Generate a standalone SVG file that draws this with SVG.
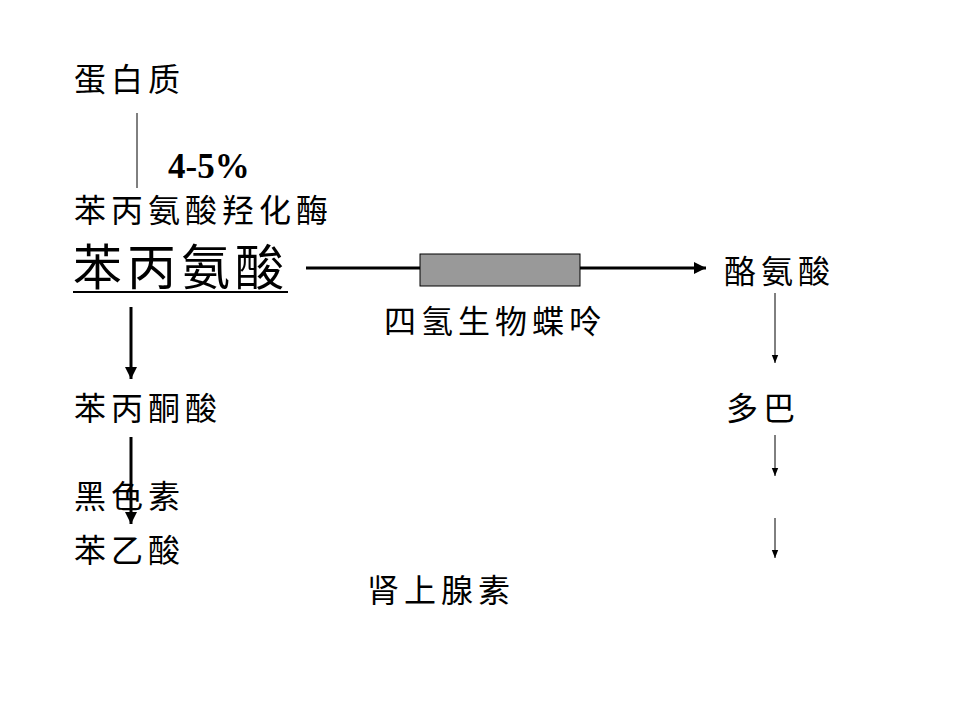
<svg xmlns="http://www.w3.org/2000/svg" width="960" height="720" viewBox="0 0 960 720">
<style>
.t{font-family:"Noto Sans CJK SC","Noto Sans CJK TC",sans-serif;font-size:32px;letter-spacing:5px;fill:#000}
.big{font-size:49px;letter-spacing:5px}
.num{font-family:"Liberation Serif",serif;font-size:35px;font-weight:bold;fill:#000}
.thin{stroke:#000;stroke-width:1;fill:none}
.thick{stroke:#000;stroke-width:3;fill:none}
</style>
<defs>
<marker id="ah" viewBox="0 0 10 10" refX="10" refY="5" markerWidth="4" markerHeight="4" orient="auto" markerUnits="strokeWidth"><path d="M0,0 L10,5 L0,10 z" fill="#000"/></marker>
<marker id="as" viewBox="0 0 10 10" refX="10" refY="5" markerWidth="9" markerHeight="8" orient="auto" markerUnits="strokeWidth"><path d="M0,1 L10,5 L0,9 z" fill="#000"/></marker>
</defs>
<rect width="960" height="720" fill="#fff"/>
<g id="connectors">
<line class="thin" x1="137" y1="113" x2="137" y2="188"/>
<line class="thick" x1="306" y1="268" x2="706" y2="268" marker-end="url(#ah)"/>
<rect x="420" y="254" width="160" height="32" fill="#999" stroke="#000" stroke-width="1"/>
<line class="thick" x1="131" y1="307" x2="131" y2="379" marker-end="url(#ah)"/>
<line class="thick" x1="131" y1="437" x2="131" y2="524" marker-end="url(#ah)"/>
<line class="thin" x1="775" y1="293" x2="775" y2="363" marker-end="url(#as)"/>
<line class="thin" x1="775" y1="435" x2="775" y2="476" marker-end="url(#as)"/>
<line class="thin" x1="775" y1="518" x2="775" y2="558" marker-end="url(#as)"/>
</g>
<g id="protein"><text class="t" x="74" y="91">蛋白质</text></g>
<g id="pct"><text class="num" x="168" y="178">4-5%</text></g>
<g id="enzyme"><text class="t" x="74" y="222">苯丙氨酸羟化酶</text></g>
<g id="phe"><text class="t big" x="73" y="285">苯丙氨酸</text><line x1="73" y1="292" x2="288" y2="292" stroke="#000" stroke-width="2"/></g>
<g id="bh4"><text class="t" x="384" y="333">四氢生物蝶呤</text></g>
<g id="tyr"><text class="t" x="724" y="283">酪氨酸</text></g>
<g id="dopa"><text class="t" x="726" y="420">多巴</text></g>
<g id="ppa"><text class="t" x="74" y="420">苯丙酮酸</text></g>
<g id="melanin"><text class="t" x="74" y="508">黑色素</text></g>
<g id="paa"><text class="t" x="74" y="562">苯乙酸</text></g>
<g id="adrenaline"><text class="t" x="367" y="602">肾上腺素</text></g>
</svg>
